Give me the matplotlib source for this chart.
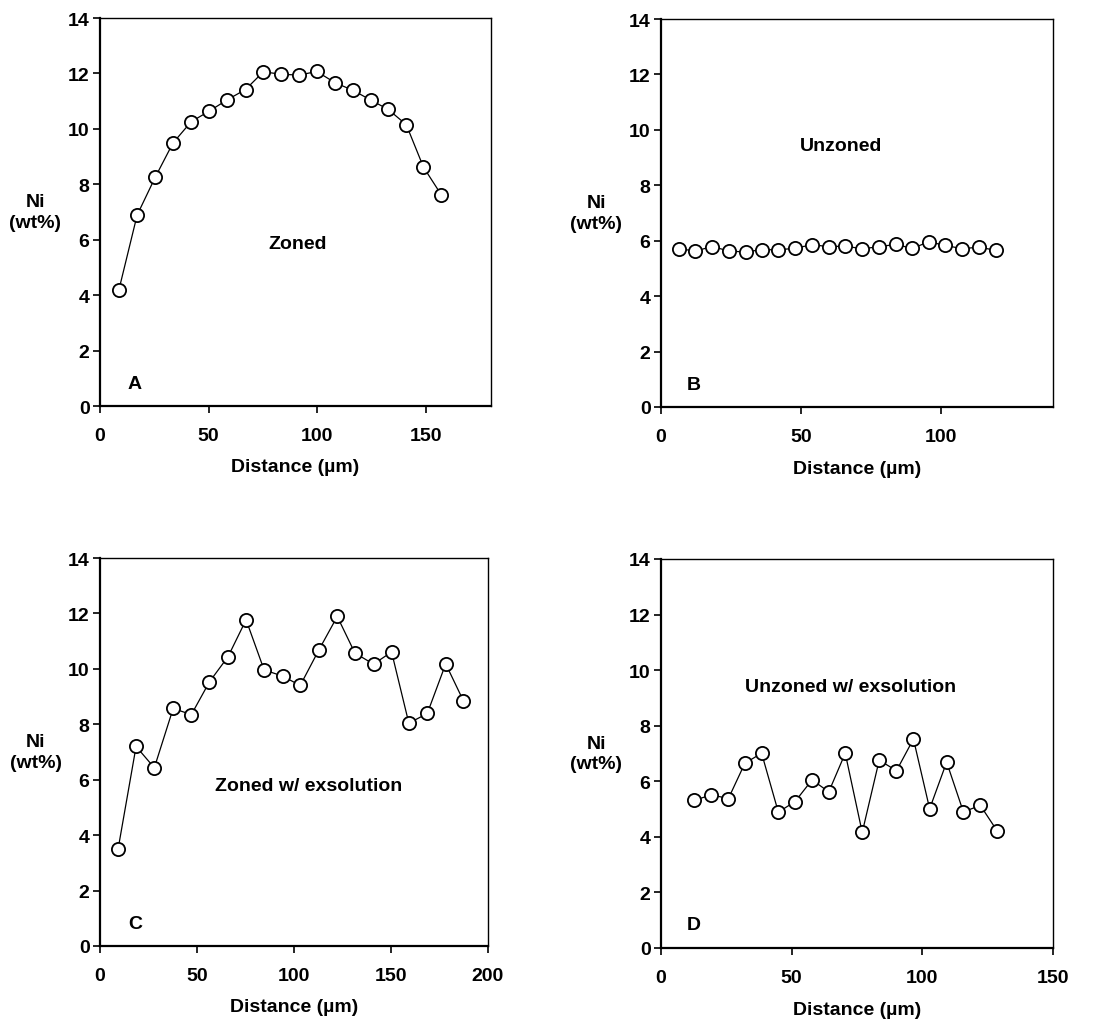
import numpy as np
import matplotlib
matplotlib.use("Agg")
import matplotlib.pyplot as plt

plt.rcParams['font.family'] = ['Liberation Sans', 'DejaVu Sans']
plt.rcParams['font.weight'] = 'bold'

# ── Panel A: zoned ──
dist_a = [8.7, 17.1, 25.4, 33.6, 42.0, 50.3, 58.6, 67.0, 75.2, 83.3, 91.6, 99.8,
          108.3, 116.5, 124.6, 132.7, 141.0, 148.9, 157.2]
ni_a = [4.19, 6.89, 8.25, 9.49, 10.26, 10.64, 11.05, 11.42, 12.06, 11.97, 11.94, 12.07,
        11.66, 11.39, 11.04, 10.70, 10.15, 8.62, 7.61]

# ── Panel B: unzoned ──
dist_b = [6.3, 12.3, 18.3, 24.2, 30.2, 35.9, 41.9, 48.0, 54.1, 59.9, 65.6, 71.7,
          77.8, 83.8, 89.7, 95.6, 101.6, 107.6, 113.6, 119.6]
ni_b = [5.71, 5.63, 5.79, 5.63, 5.59, 5.68, 5.67, 5.73, 5.86, 5.78, 5.81, 5.71,
        5.78, 5.87, 5.72, 5.96, 5.83, 5.71, 5.77, 5.65]

# ── Panel C: zoned w/ exsolution ──
dist_c = [9.3, 18.6, 28.0, 37.7, 47.1, 56.4, 66.0, 75.3, 84.6, 94.1, 103.2, 112.8,
          122.3, 131.4, 141.0, 150.3, 159.2, 168.7, 178.2, 187.3]
ni_c = [3.49, 7.20, 6.43, 8.57, 8.35, 9.53, 10.44, 11.77, 9.96, 9.74, 9.40, 10.68,
        11.89, 10.57, 10.17, 10.61, 8.04, 8.39, 10.18, 8.85]

# ── Panel D: unzoned w/ exsolution ──
dist_d = [12.8, 19.3, 25.8, 32.1, 38.5, 44.9, 51.3, 57.8, 64.2, 70.5, 77.0, 83.5,
          90.1, 96.6, 102.8, 109.3, 115.7, 122.2, 128.6]
ni_d = [5.32, 5.51, 5.38, 6.65, 7.01, 4.89, 5.27, 6.05, 5.62, 7.01, 4.16, 6.76,
        6.38, 7.52, 5.01, 6.69, 4.90, 5.13, 4.22]

W, H = 1096, 1020
FS = 14
fig = plt.figure(figsize=(W / 100, H / 100), dpi=100)


def px_axes(left, top, right, bottom):
    return fig.add_axes([left / W, 1 - bottom / H, (right - left) / W, (bottom - top) / H])


panels = [
    # (box px, x data, y data, xmax, xticks, letter, letter pos, title, title pos)
    ((100, 19, 491, 407), dist_a, ni_a, 180, [0, 50, 100, 150], "A", (15.7, 0.8), "Zoned", (91, 5.85)),
    ((661, 20, 1053, 408), dist_b, ni_b, 140, [0, 50, 100], "B", (11.6, 0.82), "Unzoned", (64.4, 9.45)),
    ((100, 559, 488, 947), dist_c, ni_c, 200, [0, 50, 100, 150, 200], "C", (18.2, 0.81),
     "Zoned w/ exsolution", (107.5, 5.8)),
    ((661, 560, 1053, 949), dist_d, ni_d, 150, [0, 50, 100, 150], "D", (12.5, 0.84),
     "Unzoned w/ exsolution", (72.7, 9.4)),
]

for box, xs, ys, xmax, xticks, letter, lpos, title, tpos in panels:
    ax = px_axes(*box)
    ax.plot(xs, ys, color='black', lw=0.9, marker='o', ms=9.5, mfc='white',
            mec='black', mew=1.3, zorder=3)
    ax.set_xlim(0, xmax)
    ax.set_ylim(0, 14)
    ax.set_xticks(xticks)
    ax.set_yticks(np.arange(0, 15, 2))
    ax.tick_params(axis='both', direction='out', length=5, width=1.2, labelsize=FS)
    ax.tick_params(axis='y', pad=2.5)
    ax.tick_params(axis='x', pad=10)
    for s in ['left', 'bottom']:
        ax.spines[s].set_linewidth(1.6)
    for s in ['top', 'right']:
        ax.spines[s].set_linewidth(1.0)
    ax.text(*lpos, letter, ha='center', va='center', fontsize=FS, fontweight='bold')
    ax.text(*tpos, title, ha='center', va='center', fontsize=FS, fontweight='bold')
    ax.set_xlabel("Distance (µm)", fontsize=FS, fontweight='bold', va='center')
    ax.xaxis.set_label_coords(0.5, -61 / 388)
    ax.set_ylabel("Ni\n(wt%)", fontsize=FS, fontweight='bold', rotation=0,
                  ha='center', va='center', linespacing=1.25)
    ax.yaxis.set_label_coords(-0.165, 0.5)

fig.savefig("out.png", dpi=100, facecolor='white')
